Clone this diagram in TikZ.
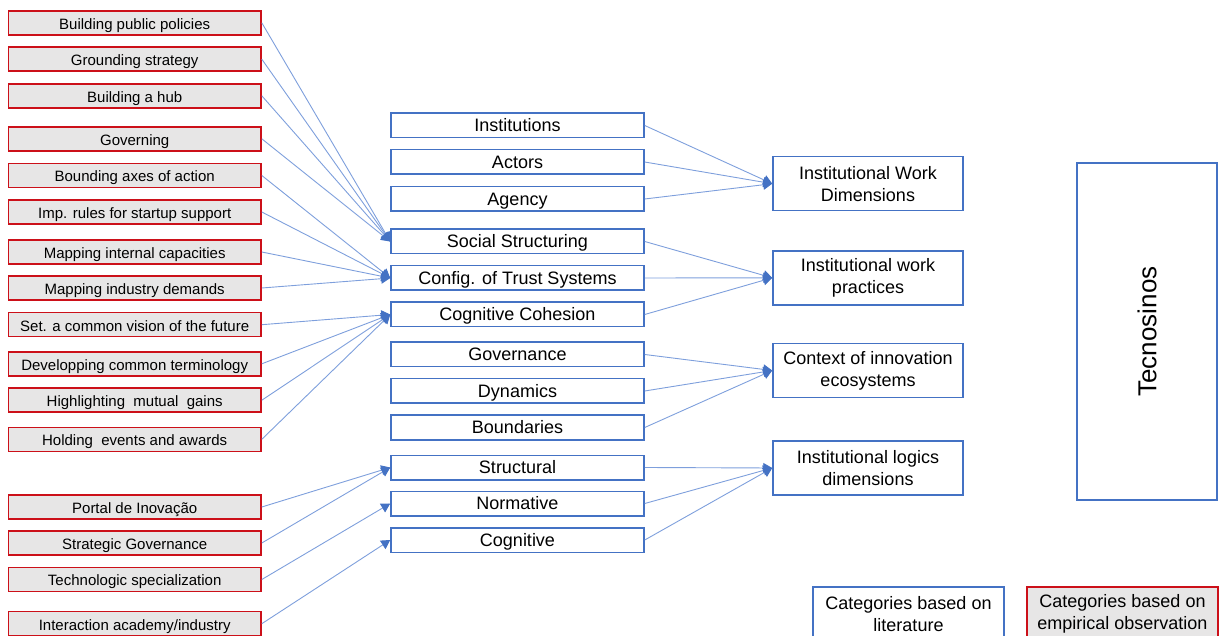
\documentclass[tikz,border=0pt]{standalone}
\usepackage{fontspec}
\setmainfont{Liberation Sans}
\usetikzlibrary{arrows.meta}
\definecolor{bordblue}{HTML}{4472C4}
\definecolor{lineblue}{HTML}{7E9FDC}
\definecolor{bordred}{HTML}{CC1019}
\definecolor{fillgray}{HTML}{E7E6E6}
\begin{document}
\begin{tikzpicture}[x=1pt,y=-1pt,
  redbox/.style={draw=bordred,fill=fillgray,line width=1.5pt,minimum width=252.7pt,minimum height=24pt,inner sep=0pt,text height=13.5pt,text depth=0.7pt,font=\fontsize{15}{18}\selectfont},
  midbox/.style={draw=bordblue,line width=1.5pt,minimum width=253pt,minimum height=24.5pt,inner sep=0pt,text height=14pt,text depth=1.6pt,font=\fontsize{18}{22}\selectfont},
  bigbox/.style={draw=bordblue,line width=1.5pt,minimum width=190pt,minimum height=54pt,inner sep=0pt,align=center,font=\fontsize{18}{22}\selectfont},
  conn/.style={draw=lineblue,line width=0.9pt,-{Triangle[length=9pt,width=10pt,fill=bordblue,color=bordblue]}},
]
\clip (0,0) rectangle (1219,636);
% left (empirical) boxes
\node[redbox] (l1)  at (134.7,22.8)  {Building public policies};
\node[redbox] (l2)  at (134.7,59.2)  {Grounding strategy};
\node[redbox] (l3)  at (134.7,95.8)  {Building a hub};
\node[redbox] (l4)  at (134.7,138.8) {Governing};
\node[redbox] (l5)  at (134.7,175.5) {Bounding axes of action};
\node[redbox] (l6)  at (134.7,212)   {Imp. rules for startup support};
\node[redbox] (l7)  at (134.7,252)   {Mapping internal capacities};
\node[redbox] (l8)  at (134.7,288)   {Mapping industry demands};
\node[redbox] (l9)  at (134.7,324.7) {Set. a common vision of the future};
\node[redbox] (l10) at (134.7,363.8) {Developping common terminology};
\node[redbox] (l11) at (134.7,400.2) {Highlighting\ \ mutual\ \ gains};
\node[redbox] (l12) at (134.7,439.3) {Holding\ \ events and awards};
\node[redbox] (l13) at (134.7,507)   {Portal de Inovação};
\node[redbox] (l14) at (134.7,543)   {Strategic Governance};
\node[redbox] (l15) at (134.7,579.5) {Technologic specialization};
\node[redbox] (l16) at (134.7,623.7) {Interaction academy/industry};
% middle (literature) boxes
\node[midbox] (m1)  at (517.5,125.5) {Institutions};
\node[midbox] (m2)  at (517.5,162)   {Actors};
\node[midbox] (m3)  at (517.5,199)   {Agency};
\node[midbox] (m4)  at (517.5,241.5) {Social Structuring};
\node[midbox] (m5)  at (517.5,278)   {Config. of Trust Systems};
\node[midbox] (m6)  at (517.5,314.5) {Cognitive Cohesion};
\node[midbox] (m7)  at (517.5,354.5) {Governance};
\node[midbox] (m8)  at (517.5,391)   {Dynamics};
\node[midbox] (m9)  at (517.5,427.5) {Boundaries};
\node[midbox] (m10) at (517.5,467.5) {Structural};
\node[midbox] (m11) at (517.5,503.5) {Normative};
\node[midbox] (m12) at (517.5,540)   {Cognitive};
% right boxes
\node[bigbox] (r1) at (868,183.7) {Institutional Work\\Dimensions};
\node[bigbox] (r2) at (868,277.8) {Institutional work\\practices};
\node[bigbox] (r3) at (868,370.5) {Context of innovation\\ecosystems};
\node[bigbox] (r4) at (868,468)   {Institutional logics\\dimensions};
% Tecnosinos
\node[draw=bordblue,line width=1.5pt,minimum width=140pt,minimum height=337pt,inner sep=0pt] (tec) at (1147,331.5) {};
\node[rotate=90,font=\fontsize{26}{30}\selectfont] (tect) at (tec.center) {Tecnosinos};
% legend
\node[bigbox,minimum width=191pt] (leglit) at (908.5,614) {Categories based on\\literature};
\node[bigbox,draw=bordred,fill=fillgray,minimum width=191pt] (legemp) at (1122.5,614) {Categories based on\\empirical observation};
% connectors left -> middle
\foreach \s in {l1,l2,l3,l4} \draw[conn] (\s.east) -- (m4.west);
\foreach \s in {l5,l6,l7,l8} \draw[conn] (\s.east) -- (m5.west);
\foreach \s in {l9,l10,l11,l12} \draw[conn] (\s.east) -- (m6.west);
\foreach \s in {l13,l14} \draw[conn] (\s.east) -- (m10.west);
\draw[conn] (l15.east) -- (m11.west);
\draw[conn] (l16.east) -- (m12.west);
% connectors middle -> right
\foreach \s in {m1,m2,m3} \draw[conn] (\s.east) -- (r1.west);
\foreach \s in {m4,m5,m6} \draw[conn] (\s.east) -- (r2.west);
\foreach \s in {m7,m8,m9} \draw[conn] (\s.east) -- (r3.west);
\foreach \s in {m10,m11,m12} \draw[conn] (\s.east) -- (r4.west);
\end{tikzpicture}
\end{document}
